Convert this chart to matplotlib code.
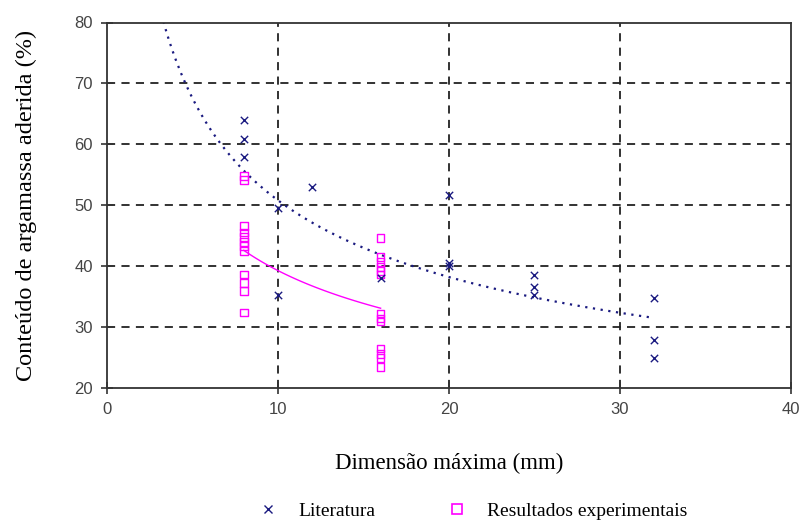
import numpy as np
import matplotlib
matplotlib.use("Agg")
import matplotlib.pyplot as plt
from matplotlib.lines import Line2D

# Literature data
lit_x = [8, 8, 8, 10, 10, 12, 16, 20, 20, 20, 25, 25, 25, 32, 32, 32]
lit_y = [64.0, 60.8, 57.9, 49.5, 35.2, 53.0, 38.0, 51.7, 40.6, 40.1, 38.5, 36.6, 35.2, 34.8, 27.9, 24.9]

# Experimental results
exp_x = [8] * 12 + [16] * 13
exp_y = [54.8, 54.1, 46.6, 45.5, 44.8, 44.0, 43.3, 42.5, 38.6, 37.2, 35.9, 32.4,
         44.6, 41.5, 40.7, 39.9, 39.2, 38.6, 32.2, 31.4, 30.9, 26.5, 25.6, 24.9, 23.4]

# Power trendline coefficients y = a * x^b
lit_trend = (130.9, -0.411)
lit_trend_range = (3.3, 32)
exp_trend = (90.8, -0.364)
exp_trend_range = (8, 16)

xticks = [0, 10, 20, 30, 40]
yticks = [20, 30, 40, 50, 60, 70, 80]

navy = "#1a1a80"
pink = "#ff00ff"

fig = plt.figure(figsize=(8.02, 5.22), dpi=100)
ax = fig.add_axes([107/802, 1-388/522, (791-107)/802, (388-22.5)/522])

for v in xticks[1:-1]:
    ax.axvline(v, color="#222222", lw=1.3, ls=(0, (4.5, 3.5)), zorder=1)
for v in yticks[1:-1]:
    ax.axhline(v, color="#222222", lw=1.3, ls=(0, (4.5, 3.5)), zorder=1)

xs = np.linspace(*lit_trend_range, 200)
ax.plot(xs, lit_trend[0] * xs ** lit_trend[1], color=navy, lw=1.6,
        ls=(0, (1, 2.5)), zorder=2)
xs2 = np.linspace(*exp_trend_range, 100)
ax.plot(xs2, exp_trend[0] * xs2 ** exp_trend[1], color=pink, lw=1.0, zorder=2)

ax.scatter(exp_x, exp_y, marker="s", s=30, facecolors="none", edgecolors=pink,
           linewidths=1.0, zorder=3)
ax.scatter(lit_x, lit_y, marker="x", s=28, color=navy, linewidths=1.0, zorder=4)

ax.set_xlim(0, 40)
ax.set_ylim(20, 80)
ax.set_xticks(xticks)
ax.set_yticks(yticks)
for s in ax.spines.values():
    s.set_linewidth(1.3)
    s.set_color("#333333")
ax.tick_params(direction="inout", length=8, width=1.2, color="#333333",
               labelsize=12, pad=6, labelcolor="#444444")
for lab in ax.get_xticklabels() + ax.get_yticklabels():
    lab.set_family("Liberation Sans")

ax.set_xlabel("Dimensão máxima (mm)", family="Liberation Serif", fontsize=16.5, labelpad=26)
ax.set_ylabel("Conteúdo de argamassa aderida (%)", family="Liberation Serif", fontsize=17.5, labelpad=27)

handles = [Line2D([], [], marker="x", ls="none", color=navy, markersize=6, mew=1.0),
           Line2D([], [], marker="s", ls="none", markerfacecolor="none",
                  markeredgecolor=pink, markersize=7, mew=1.2)]
fig.legend(handles, ["Literatura", "Resultados experimentais"], loc="center",
           bbox_to_anchor=(468/802, 1-511/522), ncol=2, frameon=False,
           prop={"family": "Liberation Serif", "size": 14}, columnspacing=3.2,
           handletextpad=0.55)

fig.savefig("out.png", dpi=100)
